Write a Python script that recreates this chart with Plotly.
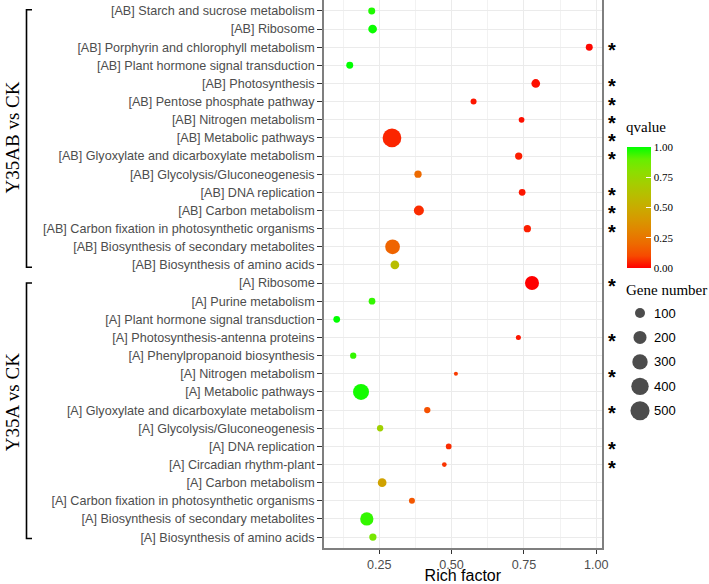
import plotly.graph_objects as go

# ---------------- data (top-to-bottom order as displayed) ----------------
pathways = [
    "[AB] Starch and sucrose metabolism",
    "[AB] Ribosome",
    "[AB] Porphyrin and chlorophyll metabolism",
    "[AB] Plant hormone signal transduction",
    "[AB] Photosynthesis",
    "[AB] Pentose phosphate pathway",
    "[AB] Nitrogen metabolism",
    "[AB] Metabolic pathways",
    "[AB] Glyoxylate and dicarboxylate metabolism",
    "[AB] Glycolysis/Gluconeogenesis",
    "[AB] DNA replication",
    "[AB] Carbon metabolism",
    "[AB] Carbon fixation in photosynthetic organisms",
    "[AB] Biosynthesis of secondary metabolites",
    "[AB] Biosynthesis of amino acids",
    "[A] Ribosome",
    "[A] Purine metabolism",
    "[A] Plant hormone signal transduction",
    "[A] Photosynthesis-antenna proteins",
    "[A] Phenylpropanoid biosynthesis",
    "[A] Nitrogen metabolism",
    "[A] Metabolic pathways",
    "[A] Glyoxylate and dicarboxylate metabolism",
    "[A] Glycolysis/Gluconeogenesis",
    "[A] DNA replication",
    "[A] Circadian rhythm-plant",
    "[A] Carbon metabolism",
    "[A] Carbon fixation in photosynthetic organisms",
    "[A] Biosynthesis of secondary metabolites",
    "[A] Biosynthesis of amino acids",
]
rich_factor = [
    0.224, 0.227, 0.976, 0.148, 0.791, 0.576, 0.742, 0.294, 0.732, 0.384,
    0.744, 0.387, 0.762, 0.296, 0.304,
    0.778, 0.225, 0.103, 0.731, 0.160, 0.515, 0.187, 0.416, 0.253, 0.490,
    0.475, 0.260, 0.363, 0.207, 0.228,
]
gene_number = [
    35, 68, 35, 35, 68, 21, 18, 473, 40, 40,
    31, 100, 40, 267, 68,
    237, 31, 31, 11, 25, 4, 328, 25, 25, 18,
    8, 68, 21, 209, 40,
]
qvalue = [
    0.97, 0.99, 0.01, 1.00, 0.02, 0.03, 0.02, 0.05, 0.04, 0.20,
    0.03, 0.06, 0.04, 0.18, 0.60,
    0.00, 0.95, 1.00, 0.03, 0.95, 0.08, 0.98, 0.12, 0.72, 0.06,
    0.07, 0.45, 0.14, 0.95, 0.85,
]
significant = [
    False, False, True, False, True, True, True, True, True, False,
    True, True, True, False, False,
    True, False, False, True, False, True, False, True, False, True,
    True, False, False, False, False,
]
groups = ["Y35AB vs CK", "Y35A vs CK"]
size_breaks = [100, 200, 300, 400, 500]
q_ticks = [0.0, 0.25, 0.5, 0.75, 1.0]
x_ticks = [0.25, 0.5, 0.75, 1.0]

# ---------------- styling helpers ----------------
def size_px(n):
    return 2.6 + 0.74 * n ** 0.5

def lab_to_hex(L, a, b):
    fy = (L + 16) / 116
    fx = fy + a / 500
    fz = fy - b / 200
    def finv(t):
        return t ** 3 if t ** 3 > 0.008856 else (t - 16 / 116) / 7.787
    X, Y, Z = 0.95047 * finv(fx), finv(fy), 1.08883 * finv(fz)
    r = 3.2406 * X - 1.5372 * Y - 0.4986 * Z
    g = -0.9689 * X + 1.8758 * Y + 0.0415 * Z
    bb = 0.0557 * X - 0.2040 * Y + 1.0570 * Z
    def gam(c):
        c = 1.055 * c ** (1 / 2.4) - 0.055 if c > 0.0031308 else 12.92 * c
        return max(0, min(255, round(c * 255)))
    return "#%02X%02X%02X" % (gam(r), gam(g), gam(bb))

red_lab = (53.24, 80.09, 67.20)
green_lab = (87.73, -86.18, 83.18)
colorscale = []
for i in range(11):
    t = i / 10
    L = red_lab[0] + (green_lab[0] - red_lab[0]) * t
    A = red_lab[1] + (green_lab[1] - red_lab[1]) * t
    B = red_lab[2] + (green_lab[2] - red_lab[2]) * t
    colorscale.append([t, lab_to_hex(L, A, B)])

W, H = 709, 584
ML, MB, MT = 324, 36, 0
PW = W - ML
PH = H - MB - MT
panel_right = 601.7
def px_x(p):
    return (p - ML) / PW
def px_y(p):
    return 1 - (p - MT) / PH

n = len(pathways)
sans = "Liberation Sans, Arial, sans-serif"
serif = "Liberation Serif, Times New Roman, serif"

fig = go.Figure()

fig.add_trace(go.Scatter(
    x=rich_factor, y=pathways, mode="markers",
    marker=dict(
        size=[size_px(g) for g in gene_number], sizemode="diameter",
        color=qvalue, colorscale=colorscale, cmin=0, cmax=1,
        line=dict(width=0), opacity=1,
        showscale=True,
        colorbar=dict(
            x=px_x(626.5), xanchor="left", y=px_y(207.5), yanchor="middle",
            thickness=24, thicknessmode="pixels", len=121, lenmode="pixels",
            xpad=0, ypad=0, outlinewidth=0,
            tickvals=q_ticks, tickformat=".2f", ticks="inside", ticklen=5,
            tickcolor="white", tickwidth=1,
            tickfont=dict(family=serif, size=11, color="black"),
        ),
    ),
    showlegend=False, hoverinfo="x+y",
    xaxis="x", yaxis="y",
))

# size legend
fig.add_trace(go.Scatter(
    x=[0] * len(size_breaks), y=size_breaks, mode="markers",
    marker=dict(size=[size_px(s) for s in size_breaks], color="black", line=dict(width=0)),
    showlegend=False, hoverinfo="skip", xaxis="x2", yaxis="y2",
))

annotations = []
for s in size_breaks:
    annotations.append(dict(
        x=0, y=s, xref="x2", yref="y2", text=str(s), showarrow=False,
        xanchor="left", yanchor="middle", xshift=12,
        font=dict(family=sans, size=13, color="black"),
    ))
annotations.append(dict(
    x=px_x(624), y=px_y(127), xref="paper", yref="paper", text="qvalue",
    showarrow=False, xanchor="left", yanchor="middle",
    font=dict(family=serif, size=15, color="black"),
))
annotations.append(dict(
    x=px_x(624), y=px_y(290), xref="paper", yref="paper", text="Gene number",
    showarrow=False, xanchor="left", yanchor="middle",
    font=dict(family=serif, size=15, color="black"),
))
for p, sig in zip(pathways, significant):
    if sig:
        annotations.append(dict(
            x=px_x(611.5), y=p, xref="paper", yref="y", text="<b>*</b>", showarrow=False,
            xanchor="center", yanchor="middle", yshift=-3,
            font=dict(family=sans, size=20, color="black"),
        ))
# group labels
annotations.append(dict(
    x=px_x(12.5), y=7, xref="paper", yref="y", text=groups[0], showarrow=False,
    textangle=-90, xanchor="center", yanchor="middle",
    font=dict(family=serif, size=19, color="black"),
))
annotations.append(dict(
    x=px_x(12.5), y=21.6, xref="paper", yref="y", text=groups[1], showarrow=False,
    textangle=-90, xanchor="center", yanchor="middle",
    font=dict(family=serif, size=19, color="black"),
))

shapes = []
bx0, bx1 = px_x(26.5), px_x(32)
for (y0, y1) in [(-0.06, 14.13), (15.0, 29.08)]:
    shapes.append(dict(
        type="path", xref="paper", yref="y",
        path=f"M {bx1},{y0} L {bx0},{y0} L {bx0},{y1} L {bx1},{y1}",
        line=dict(color="black", width=1.6),
    ))

fig.update_layout(
    width=W, height=H,
    margin=dict(l=ML, r=0, t=MT, b=MB, pad=0, autoexpand=False),
    paper_bgcolor="white", plot_bgcolor="white",
    xaxis=dict(
        domain=[0, px_x(panel_right)], range=[0.059, 1.019],
        tickvals=x_ticks, tickformat=".2f",
        showgrid=True, gridcolor="#EBEBEB", gridwidth=1,
        minor=dict(dtick=0.125, tick0=0.125, showgrid=True, gridcolor="#F2F2F2", gridwidth=0.8),
        showline=True, linecolor="#7F7F7F", linewidth=1.6, mirror=True,
        ticks="outside", ticklen=4, tickcolor="#333333", tickwidth=1,
        tickfont=dict(family=sans, size=12.6, color="#4D4D4D"),
        title=dict(text="Rich factor", font=dict(family=sans, size=16, color="black"), standoff=4),
        zeroline=False,
    ),
    yaxis=dict(
        domain=[0, 1], type="category", categoryorder="array", categoryarray=pathways,
        range=[n - 1 + 0.6, -0.6],
        showgrid=True, gridcolor="#EBEBEB", gridwidth=1,
        showline=True, linecolor="#7F7F7F", linewidth=1.6, mirror=True,
        ticks="outside", ticklen=5, tickcolor="#333333", tickwidth=1,
        tickfont=dict(family=sans, size=12.6, color="#4D4D4D"),
        zeroline=False,
    ),
    xaxis2=dict(domain=[px_x(628), px_x(652)], range=[-1, 1], visible=False, fixedrange=True),
    yaxis2=dict(domain=[px_y(423), px_y(300.8)], range=[550, 50], visible=False, fixedrange=True,
                anchor="x2"),
    annotations=annotations,
    shapes=shapes,
)
fig.data[1].update(xaxis="x2", yaxis="y2")

fig.write_html(
    "out.html",
    config={"displayModeBar": False},
    post_script="document.body.style.margin='0';document.body.style.overflow='hidden';",
)
